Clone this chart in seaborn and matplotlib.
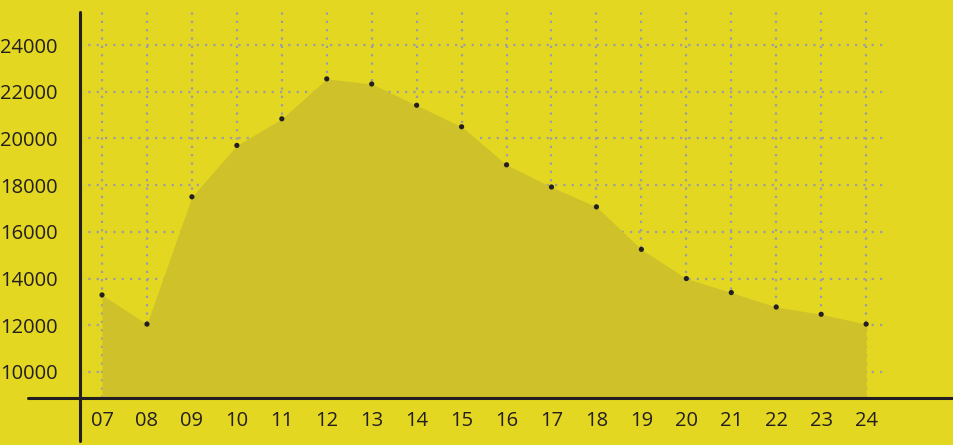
import numpy as np
import pandas as pd
import matplotlib
matplotlib.use("Agg")
import matplotlib.pyplot as plt
from matplotlib.lines import Line2D
import seaborn as sns

hours = ["07", "08", "09", "10", "11", "12", "13", "14", "15",
         "16", "17", "18", "19", "20", "21", "22", "23", "24"]
visitors = [13300, 12050, 17500, 19700, 20840, 22550, 22330, 21420, 20500,
            18870, 17920, 17070, 15250, 14000, 13400, 12780, 12470, 12050]
y_ticks = [10000, 12000, 14000, 16000, 18000, 20000, 22000, 24000]

bg = "#e3d721"
fill_col = "#cfc12a"
ink = "#231f20"
grid_col = "#9c9ba8"

sns.set_style("white", {"axes.facecolor": bg, "figure.facecolor": bg})
plt.rcParams["font.family"] = ["Open Sans", "DejaVu Sans"]

df = pd.DataFrame({"pos": np.arange(len(hours)), "visitors": visitors})

fig = plt.figure(figsize=(9.54, 4.45), dpi=100)
ax = fig.add_axes([80 / 954, 1 - 398 / 445, (885 - 80) / 954, (398 - 12) / 445])

ax.set_xlim(-0.49, 17.42)
ax.set_ylim(8886, 25413)

# dotted grid behind the area
for p in df["pos"]:
    ax.axvline(p, color=grid_col, lw=1.6, ls=(0, (1, 2.75)), zorder=0)
for t in y_ticks:
    ax.axhline(t, color=grid_col, lw=1.6, ls=(0, (1, 2.75)), zorder=0)

ax.fill_between(df["pos"], df["visitors"], 8886, color=fill_col, lw=0, zorder=1)
sns.scatterplot(data=df, x="pos", y="visitors", ax=ax, color=ink, s=14,
                edgecolor="none", zorder=3)

ax.set_xticks(df["pos"])
ax.set_xticklabels(hours)
ax.set_yticks(y_ticks)
ax.set_yticklabels([str(t) for t in y_ticks])
ax.tick_params(length=0, labelsize=14.5, colors=ink)
ax.tick_params(axis="x", pad=9)
ax.tick_params(axis="y", pad=16)
ax.set_xlabel("")
ax.set_ylabel("")
for s in ax.spines.values():
    s.set_visible(False)

# axis lines that run past the plot area
fig.add_artist(Line2D([28 / 954, 1.0], [1 - 398 / 445] * 2, color=ink, lw=2.2,
                      transform=fig.transFigure))
fig.add_artist(Line2D([80 / 954] * 2, [1 - 441 / 445, 1 - 12 / 445], color=ink,
                      lw=2.2, transform=fig.transFigure))

fig.savefig("out.png", dpi=100, facecolor=bg)
